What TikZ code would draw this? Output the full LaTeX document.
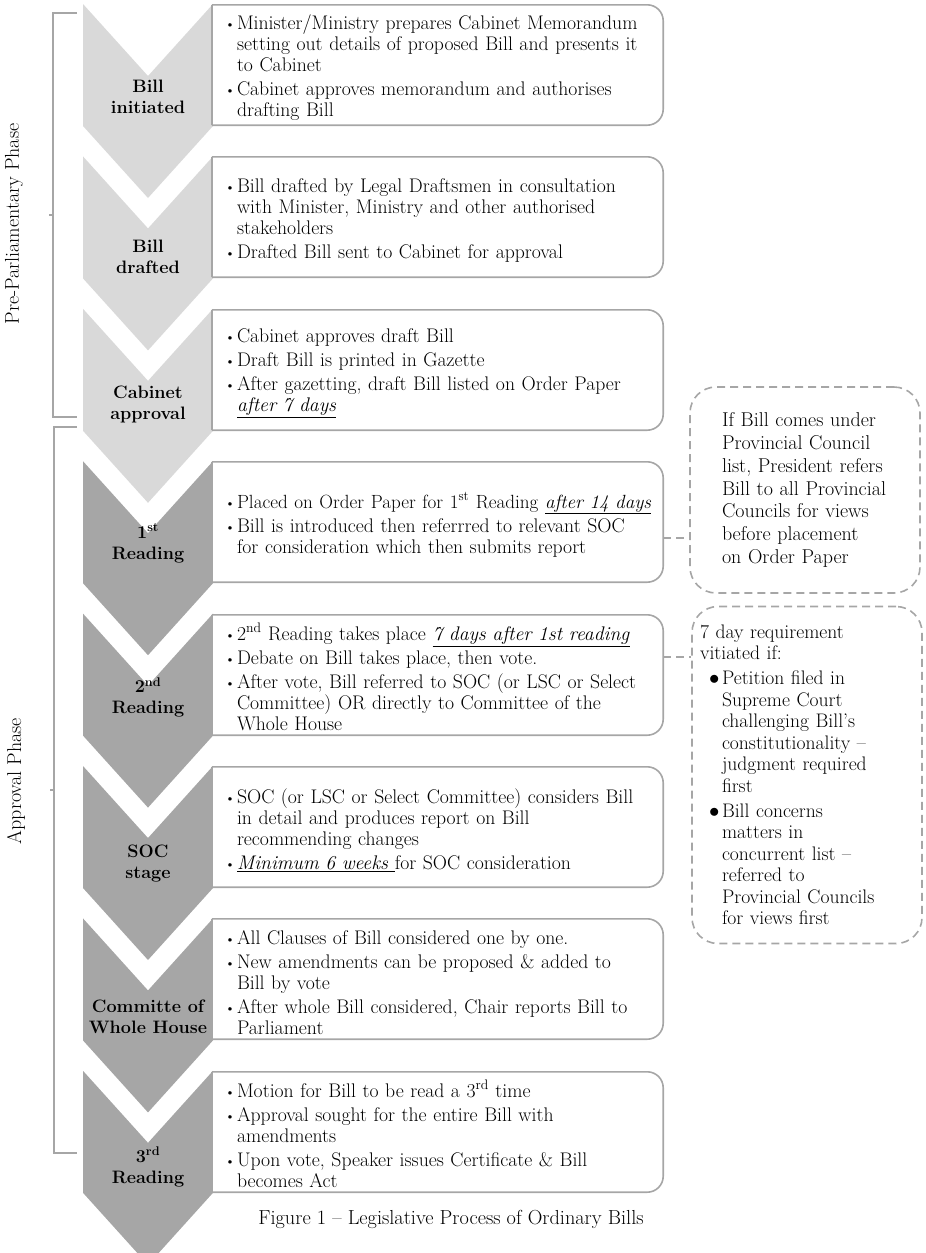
\documentclass[tikz,border=0pt]{standalone}
\usepackage{fontspec}
\usetikzlibrary{calc}
\definecolor{chevlight}{HTML}{D9D9D9}
\definecolor{chevdark}{HTML}{A6A6A6}
\definecolor{lineg}{HTML}{A6A6A6}
\newcommand\bodyfont{\fontsize{19.7}{21}\selectfont}
\newcommand\notefont{\fontsize{19.6}{21.5}\selectfont}
\newcommand\bitem[1]{\par\begingroup\let\\\newline\hangindent=12pt\hangafter=1\noindent
    \makebox[12pt][l]{\raisebox{1pt}{\fontsize{13}{13}\selectfont\textbullet}}#1\par\endgroup\vspace{3pt}}
\newcommand\nitem[1]{\par\vspace{3.5pt}\begingroup\let\\\newline\hangindent=22pt\hangafter=1\noindent
    \hspace*{9pt}\makebox[13pt][l]{$\bullet$}#1\par\endgroup}
\tikzset{
    chev/.style={fill=#1, draw=none},
    chevlabel/.style={font=\fontsize{18}{21}\selectfont\bfseries, align=center, inner sep=0pt},
    stepbox/.style={fill=white, minimum width=451pt, minimum height=120pt, text width=425pt,
        inner xsep=13pt, inner ysep=0pt, align=left, font=\bodyfont},
    outline/.style={draw=lineg, line width=1.6pt},
    note/.style={draw=lineg, line width=1.6pt, dash pattern=on 8pt off 5pt, rounded corners=26pt,
        minimum width=230pt, text width=214pt, inner xsep=8pt, align=left, font=\notefont},
    link/.style={draw=lineg, line width=1.6pt, dash pattern=on 8pt off 5pt},
    bracket/.style={draw=lineg, line width=2pt},
    phase/.style={rotate=90, font=\fontsize{20}{22}\selectfont},
    common settings/.style={x=1pt, y=-1pt}
}
\begin{document}
\begin{tikzpicture}[common settings]
    \useasboundingbox (0,0) rectangle (926,1253);

    % 1. Chevrons down the left
    \foreach \i/\lab/\dy/\col in {1/{Bill\\initiated}/93/chevlight, 2/{Bill\\drafted}/100/chevlight,
        3/{Cabinet\\approval}/96/chevlight, 4/{1\textsuperscript{st}\\Reading}/82/chevdark,
        5/{2\textsuperscript{nd}\\Reading}/84/chevdark, 6/{SOC\\stage}/98/chevdark,
        7/{Committe of\\Whole House}/98/chevdark, 8/{3\textsuperscript{rd}\\Reading}/96/chevdark} {
        \pgfmathsetmacro{\ytop}{4 + 152.4*(\i-1)}
        \fill[chev=\col] (83,\ytop) -- (148,\ytop+72) -- (213,\ytop) -- (213,\ytop+122)
            -- (148,\ytop+194) -- (83,\ytop+122) -- cycle;
        \node[chevlabel] (chev\i) at (148,\ytop+\dy) {\lab};
    }

    % 2. Text boxes
    \node[stepbox] (box1) at (437.5,65) {
        \bitem{Minister/Ministry prepares Cabinet Memorandum\\setting out details of proposed Bill and presents it\\to Cabinet}
        \bitem{Cabinet approves memorandum and authorises\\drafting Bill}};
    \node[stepbox] (box2) at (437.5,217) {
        \bitem{Bill drafted by Legal Draftsmen in consultation\\with Minister, Ministry and other authorised\\stakeholders}
        \bitem{Drafted Bill sent to Cabinet for approval}};
    \node[stepbox] (box3) at (437.5,370) {
        \bitem{Cabinet approves draft Bill}
        \bitem{Draft Bill is printed in Gazette}
        \bitem{After gazetting, draft Bill listed on Order Paper\\\underline{\textit{after 7 days}}}};
    \node[stepbox] (box4) at (437.5,522) {
        \bitem{\mbox{\fontsize{19.1}{21}\selectfont Placed on Order Paper for 1\textsuperscript{st} Reading \underline{\textit{after 14 days}}}}
        \bitem{Bill is introduced then referrred to relevant SOC\\for consideration which then submits report}};
    \node[stepbox] (box5) at (437.5,675) {
        \bitem{2\textsuperscript{nd} Reading takes place \underline{\textit{7 days after 1st reading}}}
        \bitem{Debate on Bill takes place, then vote.}
        \bitem{After vote, Bill referred to SOC (or LSC or Select\\Committee) OR directly to Committee of the\\Whole House}};
    \node[stepbox] (box6) at (437.5,827) {
        \bitem{SOC (or LSC or Select Committee) considers Bill\\in detail and produces report on Bill\\recommending changes}
        \bitem{\underline{\textit{Minimum 6 weeks }}for SOC consideration}};
    \node[stepbox] (box7) at (437.5,979) {
        \bitem{All Clauses of Bill considered one by one.}
        \bitem{New amendments can be proposed \& added to\\Bill by vote}
        \bitem{After whole Bill considered, Chair reports Bill to\\Parliament}};
    \node[stepbox] (box8) at (437.5,1132) {
        \bitem{Motion for Bill to be read a 3\textsuperscript{rd} time}
        \bitem{Approval sought for the entire Bill with\\amendments}
        \bitem{Upon vote, Speaker issues Certificate \& Bill\\becomes Act}};

    % outlines: square on the left, round on the right
    \foreach \b in {box1,box2,box3,box4,box5,box6,box7,box8} {
        \draw[outline, rounded corners=16pt] (\b.north west) -- (\b.north east)
            -- (\b.south east) -- (\b.south west);
        \draw[outline] (\b.south west) -- (\b.north west);
    }

    % 3. Side notes
    \node[note, minimum height=206pt, font=\fontsize{20}{22.7}\selectfont] (noteA) at (805,490) {%
        \let\\\newline\leftskip=24pt
        If Bill comes under\\Provincial Council\\list, President refers\\Bill to all Provincial\\Councils for views\\before placement\\on Order Paper\par};
    \node[note, minimum height=337pt] (noteB) at (807,775) {
        7 day requirement\\vitiated if:
        \nitem{Petition filed in\\Supreme Court\\challenging Bill’s\\constitutionality –\\judgment required\\first}
        \nitem{Bill concerns\\matters in\\concurrent list –\\referred to\\Provincial Councils\\for views first}};

    \draw[link] ([yshift=-16pt]box4.east) -- ([yshift=-16pt]box4.east -| noteA.west);
    \draw[link] ([yshift=18pt]box5.east) -- ([yshift=18pt]box5.east -| noteB.west);

    % 4. Phase brackets
    \draw[bracket] (77,13) -- (53,13) -- (53,417) -- (77,417);
    \draw[bracket] (53,215) -- (49,215);
    \draw[bracket] (77,427) -- (54,427) -- (54,1153) -- (77,1153);
    \draw[bracket] (54,790) -- (50,790);
    \node[phase] (prelab) at (14,224) {Pre-Parliamentary Phase};
    \node[phase] (applab) at (16,781) {Approval Phase};

    % 5. Caption
    \node[font=\fontsize{20.3}{24}\selectfont] (caption) at (451,1219) {Figure 1 – Legislative Process of Ordinary Bills};

\end{tikzpicture}
\end{document}
